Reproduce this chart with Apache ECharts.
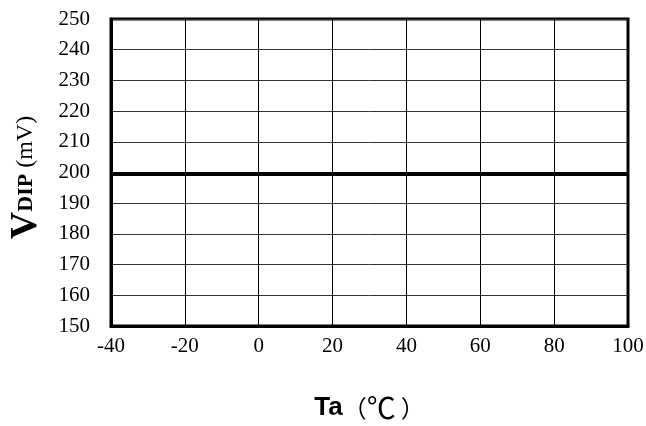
<!DOCTYPE html>
<html><head><meta charset="utf-8">
<script src="https://cdn.jsdelivr.net/npm/echarts@6/dist/echarts.min.js"></script>
<style>html,body{margin:0;padding:0;background:#fff}#c{width:646px;height:426px}</style>
</head><body><div id="c"></div>
<script>
const xTicks = [-40, -20, 0, 20, 40, 60, 80, 100];
const yTicks = [150, 160, 170, 180, 190, 200, 210, 220, 230, 240, 250];
const temperature = [-40, 100];
const vdip = [199.5, 199.5];

const chart = echarts.init(document.getElementById('c'));
chart.setOption({
  animation: false,
  grid: {left: 111, right: 18, top: 19, bottom: 100, outerBoundsMode: 'none', containLabel: false, show: true, borderColor: '#000', borderWidth: 3, backgroundColor: 'transparent'},
  xAxis: {
    type: 'value', min: -40, max: 100, interval: 20,
    axisLine: {show: true, onZero: false, lineStyle: {color: '#000', width: 3}},
    axisTick: {show: false},
    splitLine: {show: true, lineStyle: {color: '#000', width: 1}},
    axisLabel: {color: '#000', fontFamily: 'Liberation Serif', fontSize: 21, margin: 10},
    name: '{b|Ta}{p|（}{c|℃}{q|）}', nameLocation: 'middle', nameGap: 69,
    nameTextStyle: {rich: {
      b: {fontFamily: 'Liberation Sans', fontWeight: 'bold', fontSize: 26, lineHeight: 26, color: '#000'},
      p: {fontFamily: 'Noto Sans CJK SC', fontSize: 24, lineHeight: 26, color: '#000'},
      c: {fontFamily: 'Noto Sans CJK SC', fontSize: 29, lineHeight: 26, color: '#000', padding: [0, 5, 0, 0]},
      q: {fontFamily: 'Noto Sans CJK SC', fontSize: 24, lineHeight: 26, color: '#000'}
    }}
  },
  yAxis: {
    type: 'value', min: 150, max: 250, interval: 10,
    axisLine: {show: true, onZero: false, lineStyle: {color: '#000', width: 3}},
    axisTick: {show: false},
    splitLine: {show: true, lineStyle: {color: '#333', width: 1}},
    axisLabel: {color: '#000', fontFamily: 'Liberation Serif', fontSize: 21, margin: 21},
    name: '{v|V}{d|DIP}{m| (mV)}', nameLocation: 'middle', nameGap: 66, nameRotate: 90,
    nameTextStyle: {padding: [0, 10, 0, 0], rich: {
      v: {fontFamily: 'Liberation Serif', fontWeight: 'bold', fontSize: 38, color: '#000'},
      d: {fontFamily: 'Liberation Serif', fontWeight: 'bold', fontSize: 22, color: '#000'},
      m: {fontFamily: 'Liberation Serif', fontSize: 24, color: '#000'}
    }}
  },
  series: [{
    type: 'line', data: temperature.map((t, i) => [t, vdip[i]]),
    showSymbol: false, lineStyle: {color: '#000', width: 4}
  }]
});
</script></body></html>
